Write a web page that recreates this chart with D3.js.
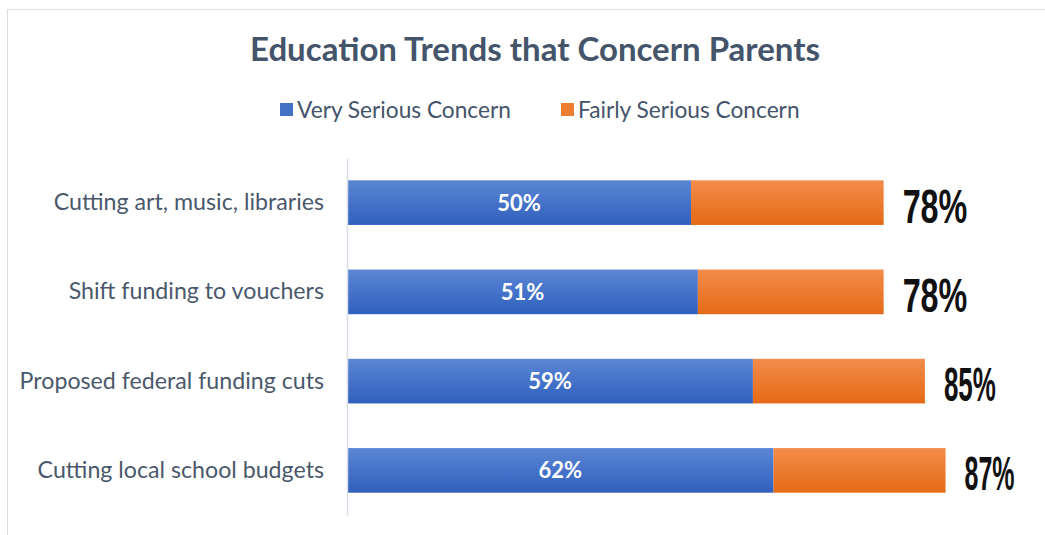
<!DOCTYPE html>
<html>
<head>
<meta charset="utf-8">
<script src="https://cdn.jsdelivr.net/npm/d3@7"></script>
<style>
  body { margin: 0; background: #fff; }
  svg { display: block; }
</style>
</head>
<body>
<div id="chart"></div>
<script>
// data
const categories = ["Cutting art, music, libraries", "Shift funding to vouchers", "Proposed federal funding cuts", "Cutting local school budgets"];
const seriesNames = ["Very Serious Concern", "Fairly Serious Concern"];
const verySerious = [50, 51, 59, 62];
const fairlySerious = [28, 27, 25, 25];
const totalLabels = ["78%", "78%", "85%", "87%"];

// the total labels in the picture are pasted text boxes of uneven width
const totalStretch = [0.66, 0.66, 0.53, 0.51];

const width = 1045, height = 535;
const svg = d3.select("#chart").append("svg")
    .attr("width", width)
    .attr("height", height);

const defs = svg.append("defs");
function grad(id, top, bottom) {
    const g = defs.append("linearGradient").attr("id", id)
        .attr("x1", 0).attr("y1", 0).attr("x2", 0).attr("y2", 1);
    g.append("stop").attr("offset", "0%").attr("stop-color", top);
    g.append("stop").attr("offset", "100%").attr("stop-color", bottom);
}
grad("gBlue", "#5b86d5", "#3060bd");
grad("gOrange", "#f38c4b", "#e46a15");
const fills = ["url(#gBlue)", "url(#gOrange)"];
const legendColors = ["#4472c4", "#ed7d31"];

// outer chart frame
svg.append("rect")
    .attr("x", 7.5).attr("y", 9.5)
    .attr("width", 1200).attr("height", 700)
    .attr("fill", "#fff")
    .attr("stroke", "#d9dde5");

svg.append("text")
    .attr("x", 535).attr("y", 61)
    .attr("text-anchor", "middle")
    .style("font-family", "Lato, sans-serif")
    .style("font-weight", "bold")
    .style("font-size", "33px")
    .attr("fill", "#44546a")
    .text("Education Trends that Concern Parents");

// legend
const legendX = [280, 561];
const legend = svg.append("g");
seriesNames.forEach(function(name, i) {
    legend.append("rect")
        .attr("x", legendX[i]).attr("y", 103)
        .attr("width", 13).attr("height", 13)
        .attr("fill", legendColors[i]);
    legend.append("text")
        .attr("x", legendX[i] + 17).attr("y", 118)
        .style("font-family", "Lato, sans-serif")
        .style("font-size", "22.7px")
        .attr("fill", "#44546a")
        .text(name);
});

const x = d3.scaleLinear().domain([0, 100]).range([347, 1035]);
const y = d3.scaleBand().domain(categories).range([158, 515])
    .paddingInner(0.5).paddingOuter(0.25);

const stacked = d3.stack().keys([0, 1])
    .value(function(d, k) { return d[k]; })(categories.map(function(c, i) {
        return [verySerious[i], fairlySerious[i]];
    }));

const layers = svg.append("g").selectAll("g")
    .data(stacked)
    .enter().append("g")
    .attr("fill", function(d, i) { return fills[i]; });

layers.selectAll("rect")
    .data(function(d) { return d; })
    .enter().append("rect")
    .attr("x", function(d) { return x(d[0]); })
    .attr("y", function(d, i) { return y(categories[i]); })
    .attr("width", function(d) { return x(d[1]) - x(d[0]); })
    .attr("height", y.bandwidth());

// category axis
const axis = svg.append("g")
    .attr("transform", "translate(" + x(0) + ",0)")
    .call(d3.axisLeft(y).tickSize(0).tickPadding(23));
axis.select(".domain").attr("stroke", "#d9dde5").attr("stroke-width", 1.5);
axis.selectAll("text")
    .style("font-family", "Lato, sans-serif")
    .style("font-size", "23.2px")
    .attr("fill", "#4a586c");

// value labels inside blue segment
svg.append("g").selectAll("text")
    .data(verySerious)
    .enter().append("text")
    .attr("x", function(d) { return (x(0) + x(d)) / 2; })
    .attr("y", function(d, i) { return y(categories[i]) + y.bandwidth() / 2 + 8; })
    .attr("text-anchor", "middle")
    .style("font-family", "Lato, sans-serif")
    .style("font-weight", "bold")
    .style("font-size", "22px")
    .attr("fill", "#fff")
    .text(function(d) { return d + "%"; });

// totals at the bar ends
const stackEnds = stacked[1];
svg.append("g").selectAll("text")
    .data(totalLabels)
    .enter().append("text")
    .attr("transform", function(d, i) {
        const cy = y(categories[i]) + y.bandwidth() / 2;
        return "translate(" + (x(stackEnds[i][1]) + 19) + "," + (cy + 20) + ") scale(" + totalStretch[i] + ",1)";
    })
    .style("font-family", "'Liberation Sans Narrow', 'Liberation Sans', sans-serif")
    .style("font-weight", "bold")
    .style("font-size", "49px")
    .attr("fill", "#111")
    .text(function(d) { return d; });
</script>
</body>
</html>
